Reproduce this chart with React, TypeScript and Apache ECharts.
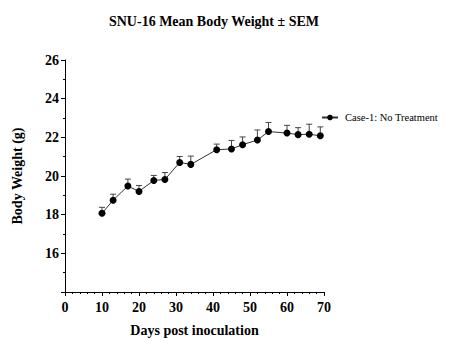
import React, { useEffect, useRef } from "react";
import * as echarts from "echarts";

const days = [10, 13, 17, 20, 24, 27, 31, 34, 41, 45, 48, 52, 55, 60, 63, 66, 69];
const meanWeight = [18.07, 18.75, 19.48, 19.2, 19.77, 19.82, 20.7, 20.6, 21.36, 21.4, 21.62, 21.86, 22.3, 22.22, 22.14, 22.16, 22.08];
const sem = [0.31, 0.31, 0.36, 0.31, 0.26, 0.36, 0.31, 0.43, 0.29, 0.44, 0.4, 0.52, 0.47, 0.4, 0.36, 0.52, 0.46];
const seriesName = "Case-1: No Treatment";

const FONT = "'Times New Roman', 'Liberation Serif', 'DejaVu Serif', serif";

export default function App() {
  const ref = useRef<HTMLDivElement>(null);
  useEffect(() => {
    const chart = echarts.init(ref.current!, null, { renderer: "svg" });
    const lineData = days.map((d, i) => [d, meanWeight[i]]);
    const errData = days.map((d, i) => [d, meanWeight[i], meanWeight[i] + sem[i]]);
    chart.setOption({
      animation: false,
      textStyle: { fontFamily: FONT },
      title: {
        text: "SNU-16 Mean Body Weight ± SEM",
        left: 209,
        top: 9,
        textAlign: "center",
        textStyle: { fontFamily: FONT, fontWeight: "bold", fontSize: 14, color: "#000" },
      },
      legend: {
        left: 316,
        top: 107,
        itemWidth: 16,
        itemHeight: 7,
        itemGap: 4,
        data: [seriesName],
        textStyle: { fontFamily: FONT, fontSize: 10.5, color: "#000", padding: [0, 0, 0, 2] },
      },
      grid: { left: 65, top: 60, right: 138, bottom: 72, containLabel: false },
      xAxis: {
        type: "value",
        min: 0,
        max: 70,
        interval: 10,
        name: "Days post inoculation",
        nameLocation: "middle",
        nameGap: 31,
        nameTextStyle: { fontFamily: FONT, fontWeight: "bold", fontSize: 14, color: "#000" },
        axisLine: { show: true, onZero: false, lineStyle: { color: "#000", width: 1 } },
        axisTick: { show: true, length: 4, lineStyle: { color: "#000" } },
        minorTick: { show: true, splitNumber: 5, length: 2, lineStyle: { color: "#000" } },
        splitLine: { show: false },
        axisLabel: { fontFamily: FONT, fontWeight: "bold", fontSize: 14, color: "#000", margin: 8 },
      },
      yAxis: {
        type: "value",
        min: 14,
        max: 26,
        interval: 2,
        name: "Body Weight (g)",
        nameLocation: "middle",
        nameGap: 41,
        nameTextStyle: { fontFamily: FONT, fontWeight: "bold", fontSize: 14, color: "#000" },
        axisLine: { show: true, onZero: false, lineStyle: { color: "#000", width: 1 } },
        axisTick: { show: true, length: 4, lineStyle: { color: "#000" } },
        minorTick: { show: true, splitNumber: 2, length: 2, lineStyle: { color: "#000" } },
        splitLine: { show: false },
        axisLabel: {
          fontFamily: FONT,
          fontWeight: "bold",
          fontSize: 14,
          color: "#000",
          margin: 6,
          formatter: (v: number) => (v === 14 ? "" : String(v)),
        },
      },
      series: [
        {
          name: seriesName + "-err",
          type: "custom",
          silent: true,
          z: 1,
          data: errData,
          renderItem: (params: any, api: any) => {
            const x = api.value(0);
            const p0 = api.coord([x, api.value(1)]);
            const p1 = api.coord([x, api.value(2)]);
            const hw = 3;
            return {
              type: "group",
              children: [
                { type: "line", shape: { x1: p0[0], y1: p0[1], x2: p1[0], y2: p1[1] }, style: { stroke: "#444", lineWidth: 1 } },
                { type: "line", shape: { x1: p1[0] - hw, y1: p1[1], x2: p1[0] + hw, y2: p1[1] }, style: { stroke: "#444", lineWidth: 1 } },
              ],
            };
          },
        },
        {
          name: seriesName,
          type: "line",
          z: 3,
          data: lineData,
          symbol: "circle",
          symbolSize: 7,
          itemStyle: { color: "#000" },
          lineStyle: { color: "#333", width: 1 },
        },
      ],
    });
    return () => chart.dispose();
  }, []);
  return <div ref={ref} style={{ width: 462, height: 364, position: "absolute", left: 0, top: 0 }} />;
}
